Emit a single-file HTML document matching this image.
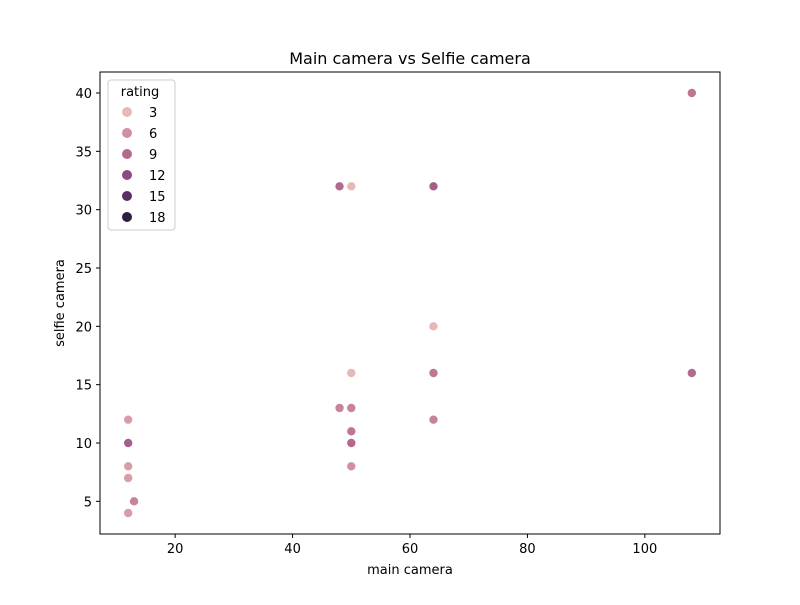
<!DOCTYPE html>
<html><head><meta charset="utf-8"><style>
body{margin:0;background:#fff;font-family:"Liberation Sans","DejaVu Sans",sans-serif}
text{font-family:"DejaVu Sans","Liberation Sans",sans-serif}
</style></head><body>
<svg id="chart" width="800" height="600">
<rect width="800" height="600" fill="#fff"/>
<text x="410" y="64" font-size="16" text-anchor="middle">Main camera vs Selfie camera</text>
<g id="xt"></g><g id="yt"></g><g id="pts"></g>
<rect x="100" y="72" width="620" height="462" fill="none" stroke="#000" stroke-width="1"/>
<text x="410" y="574" font-size="13" text-anchor="middle">main camera</text>
<text transform="translate(64,303) rotate(-90)" font-size="13" text-anchor="middle">selfie camera</text>
<g id="legend">
<rect x="108" y="80" width="67" height="150" rx="3" fill="#fff" stroke="#ccc"/>
<text x="140" y="96" font-size="13" text-anchor="middle">rating</text>
</g>
</svg>
<script>
const mainCam=[12,12,12,12,13,12,48,50,50,50,50,48,50,50,64,64,64,64,108,108];
const selfieCam=[12,10,8,7,5,4,13,13,11,10,8,32,32,16,32,20,16,12,40,16];
const ratings=[5,10,5,5,7,5,7,7,8,9,6,9,3,2,10,2,8,7,8,9];
const xTicks=[20,40,60,80,100];
const yTicks=[5,10,15,20,25,30,35,40];
const legendVals=[3,6,9,12,15,18];
const palette=["#e6b8b6","#d18f9f","#b46a8f","#8b4a80","#5c2f64","#2d1e3e"];
const NS="http://www.w3.org/2000/svg";
const X=v=>100+(v-7.2)*(620/105.6);
const Y=v=>534-(v-2.2)*(462/39.6);
function hex(c){return [1,3,5].map(i=>parseInt(c.substr(i,2),16));}
function col(r){let t=(r-3)/3;t=Math.max(0,Math.min(5,t));const i=Math.min(4,Math.floor(t)),f=t-i;
const a=hex(palette[i]),b=hex(palette[i+1]);return "rgb("+a.map((v,k)=>Math.round(v+(b[k]-v)*f)).join(",")+")";}
function mk(tag,at,parent){const e=document.createElementNS(NS,tag);for(const k in at)e.setAttribute(k,at[k]);parent.appendChild(e);return e;}
const xt=document.getElementById('xt'),yt=document.getElementById('yt'),pts=document.getElementById('pts'),lg=document.getElementById('legend');
xTicks.forEach(v=>{const x=X(v);
const l=mk('line',{x1:x,x2:x,y1:534,y2:538,stroke:'#000'},xt);


const t=mk('text',{x:x,y:553,'font-size':13,'text-anchor':'middle'},xt);t.textContent=v;

});
yTicks.forEach(v=>{const y=Y(v);
const l=mk('line',{x1:96,x2:100,y1:y,y2:y,stroke:'#000'},yt);


const t=mk('text',{x:92,y:y+5,'font-size':13,'text-anchor':'end'},yt);t.textContent=v;

});
mainCam.forEach((m,i)=>{const c=mk('circle',{cx:X(m),cy:Y(selfieCam[i]),r:4.6,fill:col(ratings[i]),stroke:'#fff','stroke-width':0.8},pts);

});
legendVals.forEach((v,i)=>{const y=112+i*21;
const c=mk('circle',{cx:127,cy:y,r:5,fill:palette[i]},lg);


const t=mk('text',{x:149,y:y+5,'font-size':13},lg);t.textContent=v;

});
</script>
</body></html>
